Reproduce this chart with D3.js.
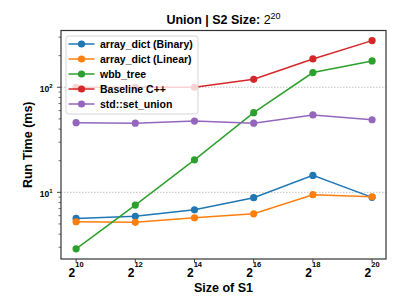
<!DOCTYPE html>
<html>
<head>
<meta charset="utf-8">
<script src="https://cdn.jsdelivr.net/npm/d3@7"></script>
<style>
  body { margin: 0; background: #fff; }
  svg { font-family: "Liberation Sans", Arial, sans-serif; }
</style>
</head>
<body>
<svg width="407" height="305"></svg>
<script>
// exponents of 2 for S1 size
const sizes = [10, 12, 14, 16, 18, 20];
const seriesNames = ["array_dict (Binary)", "array_dict (Linear)", "wbb_tree", "Baseline C++", "std::set_union"];
const binary = [5.65, 5.91, 6.82, 8.89, 14.5, 8.96];
const linear = [5.25, 5.18, 5.73, 6.25, 9.49, 9.08];
const wbb = [2.9, 7.57, 20.4, 57.3, 138, 178];
const baseline = [100, 100, 100, 119, 186, 278];
const setUnion = [46, 45.5, 47.7, 45.5, 54.5, 49.1];
const colors = ["#1f77b4", "#ff7f0e", "#2ca02c", "#d62728", "#9467bd"];
const yMajor = [1, 2];

const allSeries = [binary, linear, wbb, baseline, setUnion];

const svg = d3.select("svg");
const m = { left: 61, right: 386, top: 30.5, bottom: 259 };

const x = d3.scaleLinear().domain([9.49, 20.47]).range([m.left, m.right]);
const y = d3.scaleLog().domain([2.32, 347]).range([m.bottom, m.top]);

// grid lines at major ticks
svg.append("g")
  .selectAll("line")
  .data(yMajor)
  .join("line")
  .attr("x1", m.left).attr("x2", m.right)
  .attr("y1", d => y(Math.pow(10, d))).attr("y2", d => y(Math.pow(10, d)))
  .attr("stroke", "#999").attr("stroke-width", 0.6)
  .attr("stroke-dasharray", "1.5,1.5");

// series
const line = d3.line().x((d, i) => x(sizes[i])).y(d => y(d));
allSeries.forEach((vals, k) => {
  const g = svg.append("g");
  g.append("path")
    .attr("d", line(vals))
    .attr("fill", "none")
    .attr("stroke", colors[k])
    .attr("stroke-width", 1.5);
  g.selectAll("circle")
    .data(vals)
    .join("circle")
    .attr("cx", (d, i) => x(sizes[i]))
    .attr("cy", d => y(d))
    .attr("r", 3.6)
    .attr("fill", colors[k]);
});

// axes frame
svg.append("rect")
  .attr("x", m.left).attr("y", m.top)
  .attr("width", m.right - m.left).attr("height", m.bottom - m.top)
  .attr("fill", "none").attr("stroke", "#333").attr("stroke-width", 1.2);

// y ticks: minor
const minor = [];
for (let e = 0; e <= 2; e++) for (let k = 2; k <= 9; k++) {
  const v = k * Math.pow(10, e);
  if (v > 2.32 && v < 347) minor.push(v);
}
svg.append("g").selectAll("line").data(minor).join("line")
  .attr("x1", m.left - 2.5).attr("x2", m.left)
  .attr("y1", d => y(d)).attr("y2", d => y(d))
  .attr("stroke", "#333").attr("stroke-width", 0.7);
svg.append("g").selectAll("line").data(yMajor).join("line")
  .attr("x1", m.left - 4).attr("x2", m.left)
  .attr("y1", d => y(Math.pow(10, d))).attr("y2", d => y(Math.pow(10, d)))
  .attr("stroke", "#333").attr("stroke-width", 0.9);

const yl = svg.append("g").selectAll("text").data(yMajor).join("text")
  .attr("x", m.left - 8.5)
  .attr("y", d => y(Math.pow(10, d)) + 5)
  .attr("text-anchor", "end")
  .attr("font-weight", "bold").attr("font-size", 8.5);
yl.append("tspan").text("10");
yl.append("tspan").attr("dy", -4.5).attr("font-size", 6).text(d => d);

// x ticks
svg.append("g").selectAll("line").data(sizes).join("line")
  .attr("x1", d => x(d)).attr("x2", d => x(d))
  .attr("y1", m.bottom).attr("y2", m.bottom + 3.5)
  .attr("stroke", "#333").attr("stroke-width", 0.9);
const xl = svg.append("g").selectAll("text").data(sizes).join("text")
  .attr("x", d => x(d))
  .attr("y", 277)
  .attr("text-anchor", "middle")
  .attr("font-weight", "bold").attr("font-size", 12);
xl.append("tspan").text("2");
xl.append("tspan").attr("dy", -10).attr("font-size", 7.5).text(d => d);

// title and axis labels
const t = svg.append("text")
  .attr("x", (m.left + m.right) / 2).attr("y", 24)
  .attr("text-anchor", "middle")
  .attr("font-weight", "bold").attr("font-size", 12.5);
t.append("tspan").text("Union | S2 Size: ");
t.append("tspan").attr("font-weight", "normal").text("2");
t.append("tspan").attr("font-weight", "normal").attr("dy", -5).attr("font-size", 9).text("20");

svg.append("text")
  .attr("x", (m.left + m.right) / 2).attr("y", 292)
  .attr("text-anchor", "middle")
  .attr("font-weight", "bold").attr("font-size", 12.5)
  .text("Size of S1");

svg.append("text")
  .attr("transform", `translate(32,${(m.top + m.bottom) / 2}) rotate(-90)`)
  .attr("text-anchor", "middle")
  .attr("font-weight", "bold").attr("font-size", 12.5)
  .text("Run Time (ms)");

// legend
const lg = svg.append("g").attr("transform", "translate(66,36)");
lg.append("rect")
  .attr("width", 132).attr("height", 78).attr("rx", 2.5)
  .attr("fill", "white").attr("fill-opacity", 0.8)
  .attr("stroke", "#ccc").attr("stroke-width", 0.8);
const items = lg.selectAll("g.item").data(seriesNames).join("g")
  .attr("transform", (d, i) => `translate(0,${8 + i * 15})`);
items.append("line")
  .attr("x1", 2.5).attr("x2", 28.5)
  .attr("stroke", (d, i) => colors[i]).attr("stroke-width", 1.5);
items.append("circle")
  .attr("cx", 15.5).attr("r", 3.6)
  .attr("fill", (d, i) => colors[i]);
items.append("text")
  .attr("x", 34).attr("y", 4)
  .attr("font-weight", "bold").attr("font-size", 10.5)
  .text(d => d);
</script>
</body>
</html>
